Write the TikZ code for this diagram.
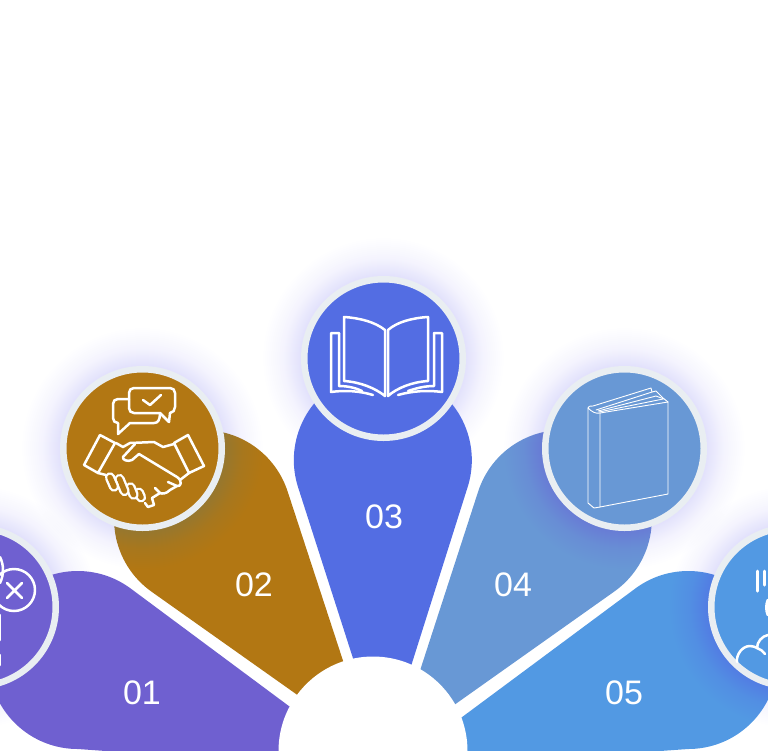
\documentclass[tikz,border=0pt]{standalone}
\usepackage{fontspec}
\setmainfont{Liberation Sans}
\definecolor{violetc}{HTML}{6F60D0}
\definecolor{brownc}{HTML}{B27713}
\definecolor{bluec}{HTML}{536DE3}
\definecolor{steelc}{HTML}{6898D5}
\definecolor{skyc}{HTML}{5299E3}
\definecolor{ringc}{HTML}{E9EEF2}
\definecolor{glowc}{HTML}{7C78F0}

\begin{document}
\begin{tikzpicture}[
  x=1pt, y=-1pt,
  badge/.style={circle, draw=ringc, line width=6.5pt, minimum size=158.5pt, inner sep=0pt},
  numlabel/.style={text=white, font=\fontsize{34}{34}\selectfont},
  iconline/.style={draw=white, line width=2.5pt, line join=round, line cap=round},
  thinline/.style={draw=white, line width=0.9pt, line join=round, line cap=round},
  capsule/.style={white, line width=2.4pt, double=brownc, double distance=5.5pt, line cap=round},
]
\useasboundingbox (0,0) rectangle (768,750);
\clip (0,0) rectangle (768,750);

% ---- petals ----
\fill[violetc] (305,718) -- (130,588) arc[start angle=54, end angle=270, radius=89pt] -- (120,752) -- (290,760) -- cycle;
\fill[brownc] (313,706) -- (152,592) arc[start angle=235, end angle=17.6, radius=89pt] -- (349,679) -- cycle;
\fill[bluec] (359,677) -- (298,487) arc[start angle=197.6, end angle=-17.6, radius=89pt] -- (406,682) -- cycle;
\fill[steelc] (415,686) -- (478,492) arc[start angle=162.4, end angle=-55, radius=89pt] -- (440,715) -- cycle;
\fill[skyc] (446,729) -- (636,588) arc[start angle=126, end angle=-90, radius=89pt] -- (646,752) -- (440,760) -- cycle;

% ---- glow behind the badges ----
\foreach \cx/\cy in {-23.5/607, 142.5/448.5, 383.5/358.5, 624.5/448.5, 790.5/607}
  \foreach \rr in {84,85,...,100,102,104,...,120}
    \fill[glowc, opacity=0.009] (\cx,\cy) circle[radius=\rr pt];

% ---- hub ----
\node[circle, fill=white, minimum size=189pt, inner sep=0pt] (hub) at (373,751) {};

% ---- badges ----
\node[badge, fill=violetc] (badge1) at (-23.5,607) {};
\node[badge, fill=brownc]  (badge2) at (142.5,448.5) {};
\node[badge, fill=bluec]   (badge3) at (383.5,358.5) {};
\node[badge, fill=steelc]  (badge4) at (624.5,448.5) {};
\node[badge, fill=skyc]    (badge5) at (790.5,607) {};

% ---- numbers ----
\node[numlabel] (num1) at (142,693) {01};
\node[numlabel] (num2) at (254,585) {02};
\node[numlabel] (num3) at (384,517) {03};
\node[numlabel] (num4) at (513,585) {04};
\node[numlabel] (num5) at (624,693) {05};

% ---- icon 1: cut off by the left edge ----
\draw[iconline] (14,590) circle[radius=21pt];
\draw[iconline] (7,583) -- (22,598) (22,583) -- (7,598);
\draw[iconline] (0,557) .. controls (4,565) and (4,575) .. (0,583);
\draw[iconline] (0,615) -- (0,640) (0,655) -- (0,665);

% ---- icon 2: handshake with speech bubbles ----
\draw[iconline] (129,399) -- (118,399) .. controls (115,399) and (113,401) .. (113,404)
  -- (113,418) .. controls (113,421) and (115,423) .. (118,423) -- (118,434) -- (130,423)
  -- (154,423) .. controls (158,423) and (160,420) .. (160,413);
\draw[iconline] (134,388) -- (170,388) .. controls (173,388) and (175,390) .. (175,393)
  -- (175,407) .. controls (175,410) and (173,413) .. (170,413) -- (169,422) -- (160,413)
  -- (134,413) .. controls (131,413) and (129,411) .. (129,408) -- (129,393)
  .. controls (129,390) and (131,388) .. (134,388) -- cycle;
\draw[iconline] (143,400) -- (150,405) -- (161,395);
\draw[capsule] (139,492.7) -- (141,497.3);
\draw[capsule] (130.5,487.3) -- (133.5,494.7);
\draw[capsule] (119.5,479) -- (124.5,491);
\draw[capsule] (110,477.4) -- (114,486.6);
\draw[iconline] (100,435) -- (115,443) -- (98,473) -- (84,465) -- cycle;
\draw[iconline] (188,435) -- (204,466) -- (189,473) -- (174,443) -- cycle;
\draw[iconline] (116,443) -- (123,447) -- (130,443) -- (154,442) -- (163,447) -- (174,444);
\draw[iconline] (135,444) -- (123,457) .. controls (122,460) and (128,462) .. (132,460)
  -- (139,454) -- (177,477) .. controls (183,481) and (181,487) .. (177,486) -- (168,482);
\draw[iconline] (177,486) -- (170,490) .. controls (166,494) and (162,494) .. (160,493) -- (155,488);
\draw[iconline] (160,493) -- (152,498) -- (154,505) -- (148,507) -- (145,503);
\draw[iconline] (189,473) -- (180,480);
\draw[iconline] (98,473) -- (106,475);

% ---- icon 3: open book ----
\draw[iconline] (344,317) .. controls (360,318) and (375,322) .. (385,330) -- (385,396)
  .. controls (375,388) and (360,382) .. (344,381) -- cycle;
\draw[iconline] (428,317) .. controls (412,318) and (397,322) .. (388,330) -- (388,396)
  .. controls (397,388) and (412,382) .. (428,381) -- cycle;
\draw[iconline] (339,333) -- (331,333) -- (331,392) .. controls (345,390) and (360,391) .. (373,395);
\draw[iconline] (339,333) -- (339,386) .. controls (348,386) and (356,388) .. (362,391);
\draw[iconline] (434,333) -- (442,333) -- (442,392) .. controls (428,390) and (412,391) .. (398,395);
\draw[iconline] (434,333) -- (434,386) .. controls (425,386) and (417,388) .. (408,391);

% ---- icon 4: closed book ----
\draw[thinline] (600,413) -- (668,402) -- (668,494) -- (600,507) -- cycle;
\draw[thinline] (600,413) .. controls (596,414) and (592,412) .. (588,408) -- (588,503) -- (594,508) -- (600,507);
\draw[thinline] (588,408) .. controls (588,406) and (590,406) .. (593,406) -- (651,388) -- (652,392);
\draw[thinline] (596,410) -- (652,392) -- (656,391) -- (663,398) -- (668,402);
\draw[thinline] (598,411) -- (656,396) -- (664,399);
\draw[thinline] (599,412) -- (663,399);

% ---- icon 5: cut off by the right edge ----
\draw[iconline, line width=3pt] (757,571) -- (757,591);
\draw[iconline, line width=3pt] (764,571) -- (764,585);
\draw[iconline, line width=3pt] (768,600) .. controls (766,605) and (766,610) .. (768,615);
\draw[iconline] (737,662) .. controls (736,655) and (742,646) .. (750,646) .. controls (753,646) and (755,647) .. (757,648)
  .. controls (757,642) and (762,636) .. (768,635);
\draw[iconline] (757,648) .. controls (760,649) and (763,651) .. (765,654);
\end{tikzpicture}
\end{document}
